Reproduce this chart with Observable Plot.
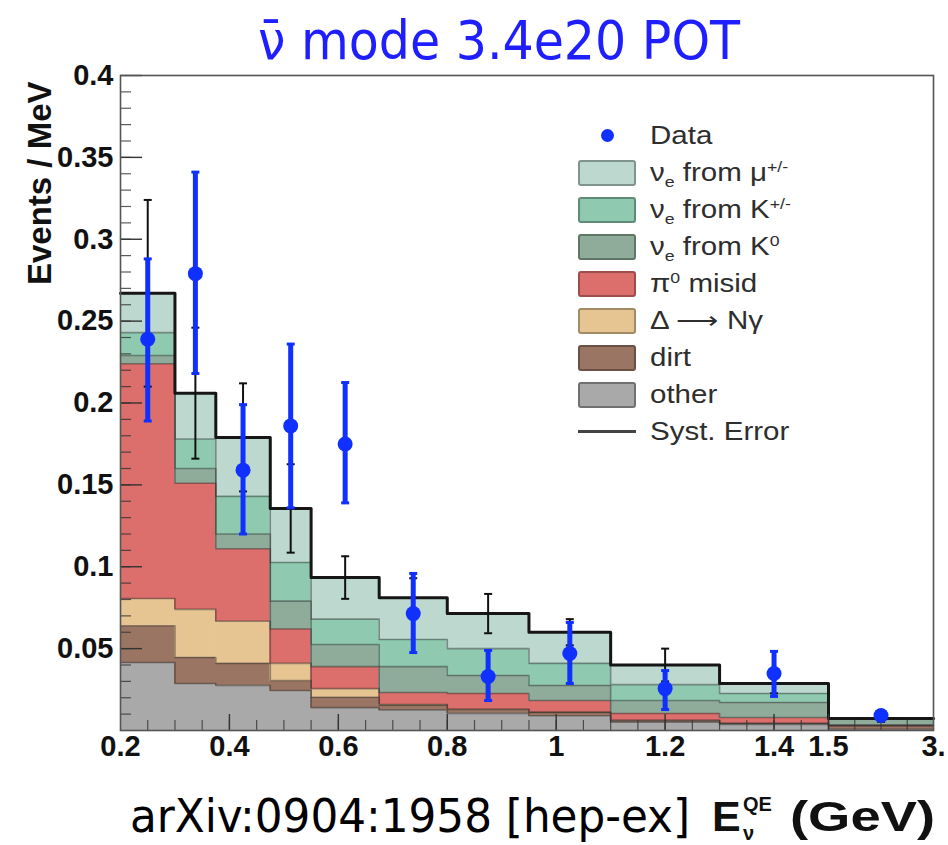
<!DOCTYPE html>
<html>
<head>
<meta charset="utf-8">
<script src="https://cdn.jsdelivr.net/npm/d3@7"></script>
<script src="https://cdn.jsdelivr.net/npm/@observablehq/plot@0.6"></script>
<style>
  html, body { margin: 0; padding: 0; background: #fff; }
  body { width: 948px; height: 845px; overflow: hidden; }
  svg { display: block; }
  #chart { position: relative; width: 948px; height: 710px; }
  #legend { position: absolute; left: 578px; top: 57px; font-family: "Liberation Sans", Arial, sans-serif; font-size: 25px; color: #2e2e2e; }
  .row { height: 37px; display: flex; align-items: center; }
  .key { width: 58px; height: 26px; box-sizing: border-box; display: flex; align-items: center; justify-content: center; flex: none; }
  .lab { margin-left: 14px; white-space: nowrap; transform: scaleX(1.18); transform-origin: left center; line-height: 1; }
  .lab sub, .lab sup { font-size: 60%; line-height: 0; }
  #chart g[aria-label="x-axis tick label"] text, #chart g[aria-label="y-axis tick label"] text { font-weight: bold; }
</style>
</head>
<body>
<svg id="title" width="948" height="60" style="overflow:visible">
  <text x="258" y="59" font-family="DejaVu Sans Condensed, DejaVu Sans, sans-serif" font-stretch="condensed" font-size="53" fill="#1e1eff" textLength="482" lengthAdjust="spacingAndGlyphs">ν̄ mode 3.4e20 POT</text>
</svg>
<div id="chart"><div id="legend"></div></div>
<svg id="caption" width="948" height="75" style="overflow:visible">
  <text x="130" y="62" font-family="DejaVu Sans Condensed, DejaVu Sans, sans-serif" font-stretch="condensed" font-size="47" fill="#000" textLength="560" lengthAdjust="spacingAndGlyphs">arXiv:0904:1958 [hep-ex]</text>
  <g font-family="Liberation Sans, Arial, sans-serif" font-weight="bold" fill="#111">
    <text x="712" y="61" font-size="43">E</text>
    <text x="743" y="41" font-size="20">QE</text>
    <text x="743" y="70" font-size="20">ν</text>
    <text x="790" y="61" font-size="43" textLength="145" lengthAdjust="spacingAndGlyphs">(GeV)</text>
  </g>
</svg>
<script>
// ---- bins (E_QE, GeV) ----
const binEdges = [0.2, 0.3, 0.375, 0.475, 0.55, 0.675, 0.8, 0.95, 1.1, 1.3, 1.5, 3.0];

// ---- predicted components (Events / MeV), per bin ----
const nueFromMu   = [0.024, 0.028, 0.036, 0.033, 0.0254, 0.0254, 0.0214, 0.019, 0.012, 0.0061, 0.0001];
const nueFromKpm  = [0.014, 0.018, 0.023, 0.0236, 0.0155, 0.0166, 0.0164, 0.0135, 0.0097, 0.0055, 0.0003];
const nueFromK0   = [0.005, 0.009, 0.009, 0.017, 0.0135, 0.0158, 0.011, 0.0092, 0.0079, 0.0092, 0.0036];
const pi0Misid    = [0.1434, 0.077, 0.0443, 0.021, 0.0134, 0.0073, 0.0096, 0.0071, 0.0042, 0.0035, 0.0003];
const deltaNgamma = [0.0166, 0.0294, 0.0257, 0.0105, 0.0053, 0.0004, 0.0002, 0.0002, 0.0001, 0.0001, 0.0];
const dirtEvents  = [0.0225, 0.0159, 0.0135, 0.0061, 0.0063, 0.003, 0.0024, 0.002, 0.0011, 0.0006, 0.0022];
const otherEvents = [0.0415, 0.0287, 0.0275, 0.0244, 0.014, 0.0125, 0.0104, 0.009, 0.005, 0.0037, 0.0008];

// ---- data and errors ----
const dataValue    = [0.239, 0.279, 0.159, 0.186, 0.175, 0.0714, 0.033, 0.047, 0.0256, 0.0348, 0.0092];
const dataStatLow  = [0.189, 0.218, 0.120, 0.136, 0.139, 0.0476, 0.0183, 0.0287, 0.0128, 0.0208, 0.0072];
const dataStatHigh = [0.288, 0.341, 0.199, 0.236, 0.2125, 0.0959, 0.0489, 0.066, 0.0366, 0.0483, 0.0113];
const systError    = [0.057, 0.040, 0.033, 0.027, 0.013, 0.012, 0.012, 0.008, 0.010, 0.006, 0.002];

// ---- ticks ----
const xTickValues = [0.2, 0.4, 0.6, 0.8, 1.0, 1.2, 1.4, 1.5, 3.0];
const xTickLabels = ["0.2", "0.4", "0.6", "0.8", "1", "1.2", "1.4", "1.5", "3."];
const xMinorExtra = [1.875, 2.25, 2.625];
const yTickValues = [0.05, 0.1, 0.15, 0.2, 0.25, 0.3, 0.35, 0.4];
const yTickLabels = ["0.05", "0.1", "0.15", "0.2", "0.25", "0.3", "0.35", "0.4"];

// ---- components (legend order, top of stack first) ----
const componentNames  = ["nue_mu", "nue_kpm", "nue_k0", "pi0", "delta", "dirt", "other"];
const componentColors = ["#bcd8cf", "#8fcab0", "#8fab99", "#dc6e6b", "#e6c592", "#9b7563", "#a9a9a9"];
const componentBorder = ["#7f948e", "#5f8c78", "#5f7566", "#9c4c4a", "#a38b66", "#6b5044", "#707070"];
const componentLabels = [
  "ν<sub>e</sub> from μ<sup>+/-</sup>",
  "ν<sub>e</sub> from K<sup>+/-</sup>",
  "ν<sub>e</sub> from K<sup>0</sup>",
  "π<sup>0</sup> misid",
  "Δ ⟶ Nγ",
  "dirt",
  "other"
];
const dataLabel = "Data";
const systLabel = "Syst. Error";
const yTitle = "Events / MeV";

const series = [nueFromMu, nueFromKpm, nueFromK0, pi0Misid, deltaNgamma, dirtEvents, otherEvents];
const nBins = binEdges.length - 1;

// build stacked rectangles (bottom: other ... top: nue from mu)
const rects = [];
const stepPts = [];
const cum = new Array(nBins).fill(0);
for (let k = series.length - 1; k >= 0; k--) {
  for (let i = 0; i < nBins; i++) {
    const y1 = cum[i], y2 = y1 + series[k][i];
    rects.push({x1: binEdges[i], x2: binEdges[i + 1], y1, y2, comp: componentNames[k]});
    cum[i] = y2;
  }
  for (let i = 0; i < nBins; i++) stepPts.push({x: binEdges[i], y: cum[i], comp: componentNames[k]});
  stepPts.push({x: binEdges[nBins], y: cum[nBins - 1], comp: componentNames[k]});
}
const totalPts = stepPts.filter(d => d.comp === componentNames[0]);

const points = dataValue.map((v, i) => ({
  x: (binEdges[i] + binEdges[i + 1]) / 2,
  y: v, lo: dataStatLow[i], hi: dataStatHigh[i],
  sLo: cum[i] - systError[i], sHi: cum[i] + systError[i]
}));

const capSymbol = {draw(ctx, size) { const w = Math.sqrt(size / Math.PI); ctx.moveTo(-w, 0); ctx.lineTo(w, 0); }};

const W = 948, H = 710, mL = 120, mR = 15, mT = 15, mB = 40;
const frameW = W - mL - mR, frameH = H - mT - mB;

const yMinor = d3.range(1, 40).map(i => i / 100);
const xMinor = d3.range(5, 30).map(i => i * 0.05).concat(xMinorExtra);
const xMajor = xTickValues.filter(v => v > 0.2 && v < 3);

const blue = "#1030ff";

const plot = Plot.plot({
  width: W, height: H,
  marginLeft: mL, marginRight: mR, marginTop: mT, marginBottom: mB,
  style: {fontFamily: "Liberation Sans, Arial, sans-serif", background: "transparent", color: "#111"},
  x: {type: "linear", domain: [0.2, 1.5, 3.0], range: [mL, 828, W - mR]},
  y: {domain: [0, 0.4]},
  color: {domain: componentNames, range: componentColors},
  marks: [
    Plot.rect(rects, {x1: "x1", x2: "x2", y1: "y1", y2: "y2", fill: "comp", stroke: "comp", strokeWidth: 0.8, shapeRendering: "crispEdges"}),
    Plot.line(stepPts, {x: "x", y: "y", z: "comp", curve: "step-after", stroke: "#2a2a2a", strokeOpacity: 0.45, strokeWidth: 1.6}),
    Plot.line(totalPts, {x: "x", y: "y", curve: "step-after", stroke: "#161616", strokeWidth: 3}),
    // ticks (inside the frame)
    Plot.tickY(yMinor, {y: d => d, insetRight: frameW - 11, stroke: "#333", strokeWidth: 1.2, strokeOpacity: 0.8}),
    Plot.tickY(yTickValues, {y: d => d, insetRight: frameW - 22, stroke: "#333", strokeWidth: 1.4}),
    Plot.tickX(xMinor, {x: d => d, insetTop: frameH - 10, stroke: "#333", strokeWidth: 1.2, strokeOpacity: 0.8}),
    Plot.tickX(xMajor, {x: d => d, insetTop: frameH - 16, stroke: "#333", strokeWidth: 1.4}),
    // systematic error on total prediction
    Plot.ruleX(points, {x: "x", y1: "sLo", y2: "sHi", stroke: "#111", strokeWidth: 2}),
    Plot.dot(points, {x: "x", y: "sHi", symbol: capSymbol, r: 4, stroke: "#111", fill: "none", strokeWidth: 2}),
    Plot.dot(points, {x: "x", y: "sLo", symbol: capSymbol, r: 4, stroke: "#111", fill: "none", strokeWidth: 2}),
    // data
    Plot.ruleX(points, {x: "x", y1: "lo", y2: "hi", stroke: blue, strokeWidth: 5}),
    Plot.dot(points, {x: "x", y: "hi", symbol: capSymbol, r: 4, stroke: blue, fill: "none", strokeWidth: 3}),
    Plot.dot(points, {x: "x", y: "lo", symbol: capSymbol, r: 4, stroke: blue, fill: "none", strokeWidth: 3}),
    Plot.dot(points, {x: "x", y: "y", r: 7.5, fill: blue, stroke: "none"}),
    Plot.frame({stroke: "#555", strokeWidth: 1.6}),
    Plot.axisX({ticks: xTickValues, tickFormat: d => xTickLabels[xTickValues.indexOf(d)], tickSize: 0, tickPadding: 5, fontSize: 29, label: null}),
    Plot.axisY({ticks: yTickValues, tickFormat: d => yTickLabels[yTickValues.indexOf(d)], tickSize: 0, tickPadding: 7, fontSize: 29, label: null}),
    Plot.text([yTitle], {text: d => d, frameAnchor: "top-left", rotate: -90, textAnchor: "end", dx: -93, dy: 6, fontSize: 33, fontWeight: "bold", fill: "#111"})
  ]
});

const chart = document.getElementById("chart");
chart.insertBefore(plot, chart.firstChild);

// ---- legend ----
const legend = d3.select("#legend");
const r0 = legend.append("div").attr("class", "row");
r0.append("div").attr("class", "key").append("div")
  .style("width", "13px").style("height", "13px").style("border-radius", "50%").style("background", blue);
r0.append("div").attr("class", "lab").text(dataLabel);
componentNames.forEach((c, i) => {
  const r = legend.append("div").attr("class", "row");
  r.append("div").attr("class", "key")
    .style("background", componentColors[i])
    .style("border", `2px solid ${componentBorder[i]}`)
    .style("border-radius", "3px");
  r.append("div").attr("class", "lab").html(componentLabels[i]);
});
const rs = legend.append("div").attr("class", "row");
rs.append("div").attr("class", "key").append("div")
  .style("width", "58px").style("height", "3px").style("background", "#444");
rs.append("div").attr("class", "lab").text(systLabel);
</script>
</body>
</html>
